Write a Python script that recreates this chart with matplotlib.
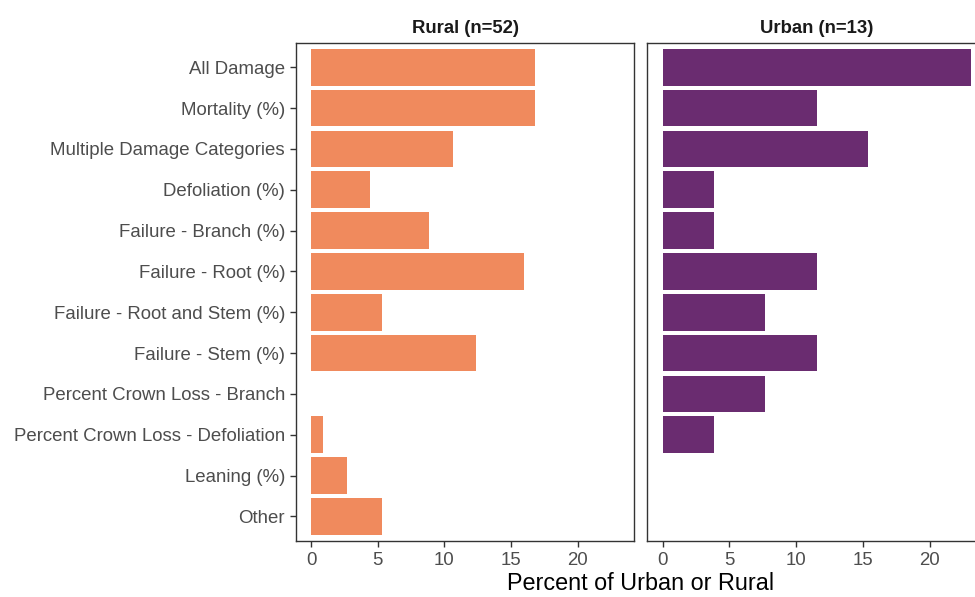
import numpy as np
import matplotlib.pyplot as plt

plt.rcParams['font.family'] = ['Liberation Sans', 'DejaVu Sans']

categories = ["All Damage", "Mortality (%)", "Multiple Damage Categories",
              "Defoliation (%)", "Failure - Branch (%)", "Failure - Root (%)",
              "Failure - Root and Stem (%)", "Failure - Stem (%)",
              "Percent Crown Loss - Branch", "Percent Crown Loss - Defoliation",
              "Leaning (%)", "Other"]
rural_counts = [19, 19, 12, 5, 10, 18, 6, 14, 0, 1, 3, 6]
urban_counts = [6, 3, 4, 1, 1, 3, 2, 3, 2, 1, 0, 0]
rural_pct = np.array(rural_counts) / sum(rural_counts) * 100
urban_pct = np.array(urban_counts) / sum(urban_counts) * 100
panels = ["Rural (n=52)", "Urban (n=13)"]
colors = ["#F08A5D", "#6A2C70"]
xticks = [0, 5, 10, 15, 20]

W, H = 975, 597
fig = plt.figure(figsize=(W / 100, H / 100), dpi=100)

top, bottom = 42.7, 541
boxes = [(295.7, 634.3), (647.3, 986.0)]
ypos = np.arange(len(categories))[::-1] + 1
xmax = max(rural_pct.max(), urban_pct.max())
xlim = (-0.05 * xmax, 1.05 * xmax)

for i, (vals, title, col, (l, r)) in enumerate(zip([rural_pct, urban_pct], panels, colors, boxes)):
    ax = fig.add_axes([l / W, 1 - bottom / H, (r - l) / W, (bottom - top) / H])
    ax.barh(ypos, vals, height=0.9, color=col)
    ax.set_xlim(*xlim)
    ax.set_ylim(0.4, len(categories) + 0.6)
    ax.set_xticks(xticks)
    ax.tick_params(colors='#333333', labelcolor='#4D4D4D', labelsize=13.4,
                   length=4.2, width=1, pad=3.5)
    if i == 0:
        ax.set_yticks(ypos)
        ax.set_yticklabels(categories)
    else:
        ax.set_yticks([])
    for s in ax.spines.values():
        s.set_color('#333333')
        s.set_linewidth(1)
    ax.set_title(title, fontsize=13.3, fontweight='bold', color='#1A1A1A', pad=7)

fig.text(641 / W, 1 - 583 / H, "Percent of Urban or Rural", ha='center', va='center',
         fontsize=16.8, color='black')

fig.savefig("out.png", dpi=100)
